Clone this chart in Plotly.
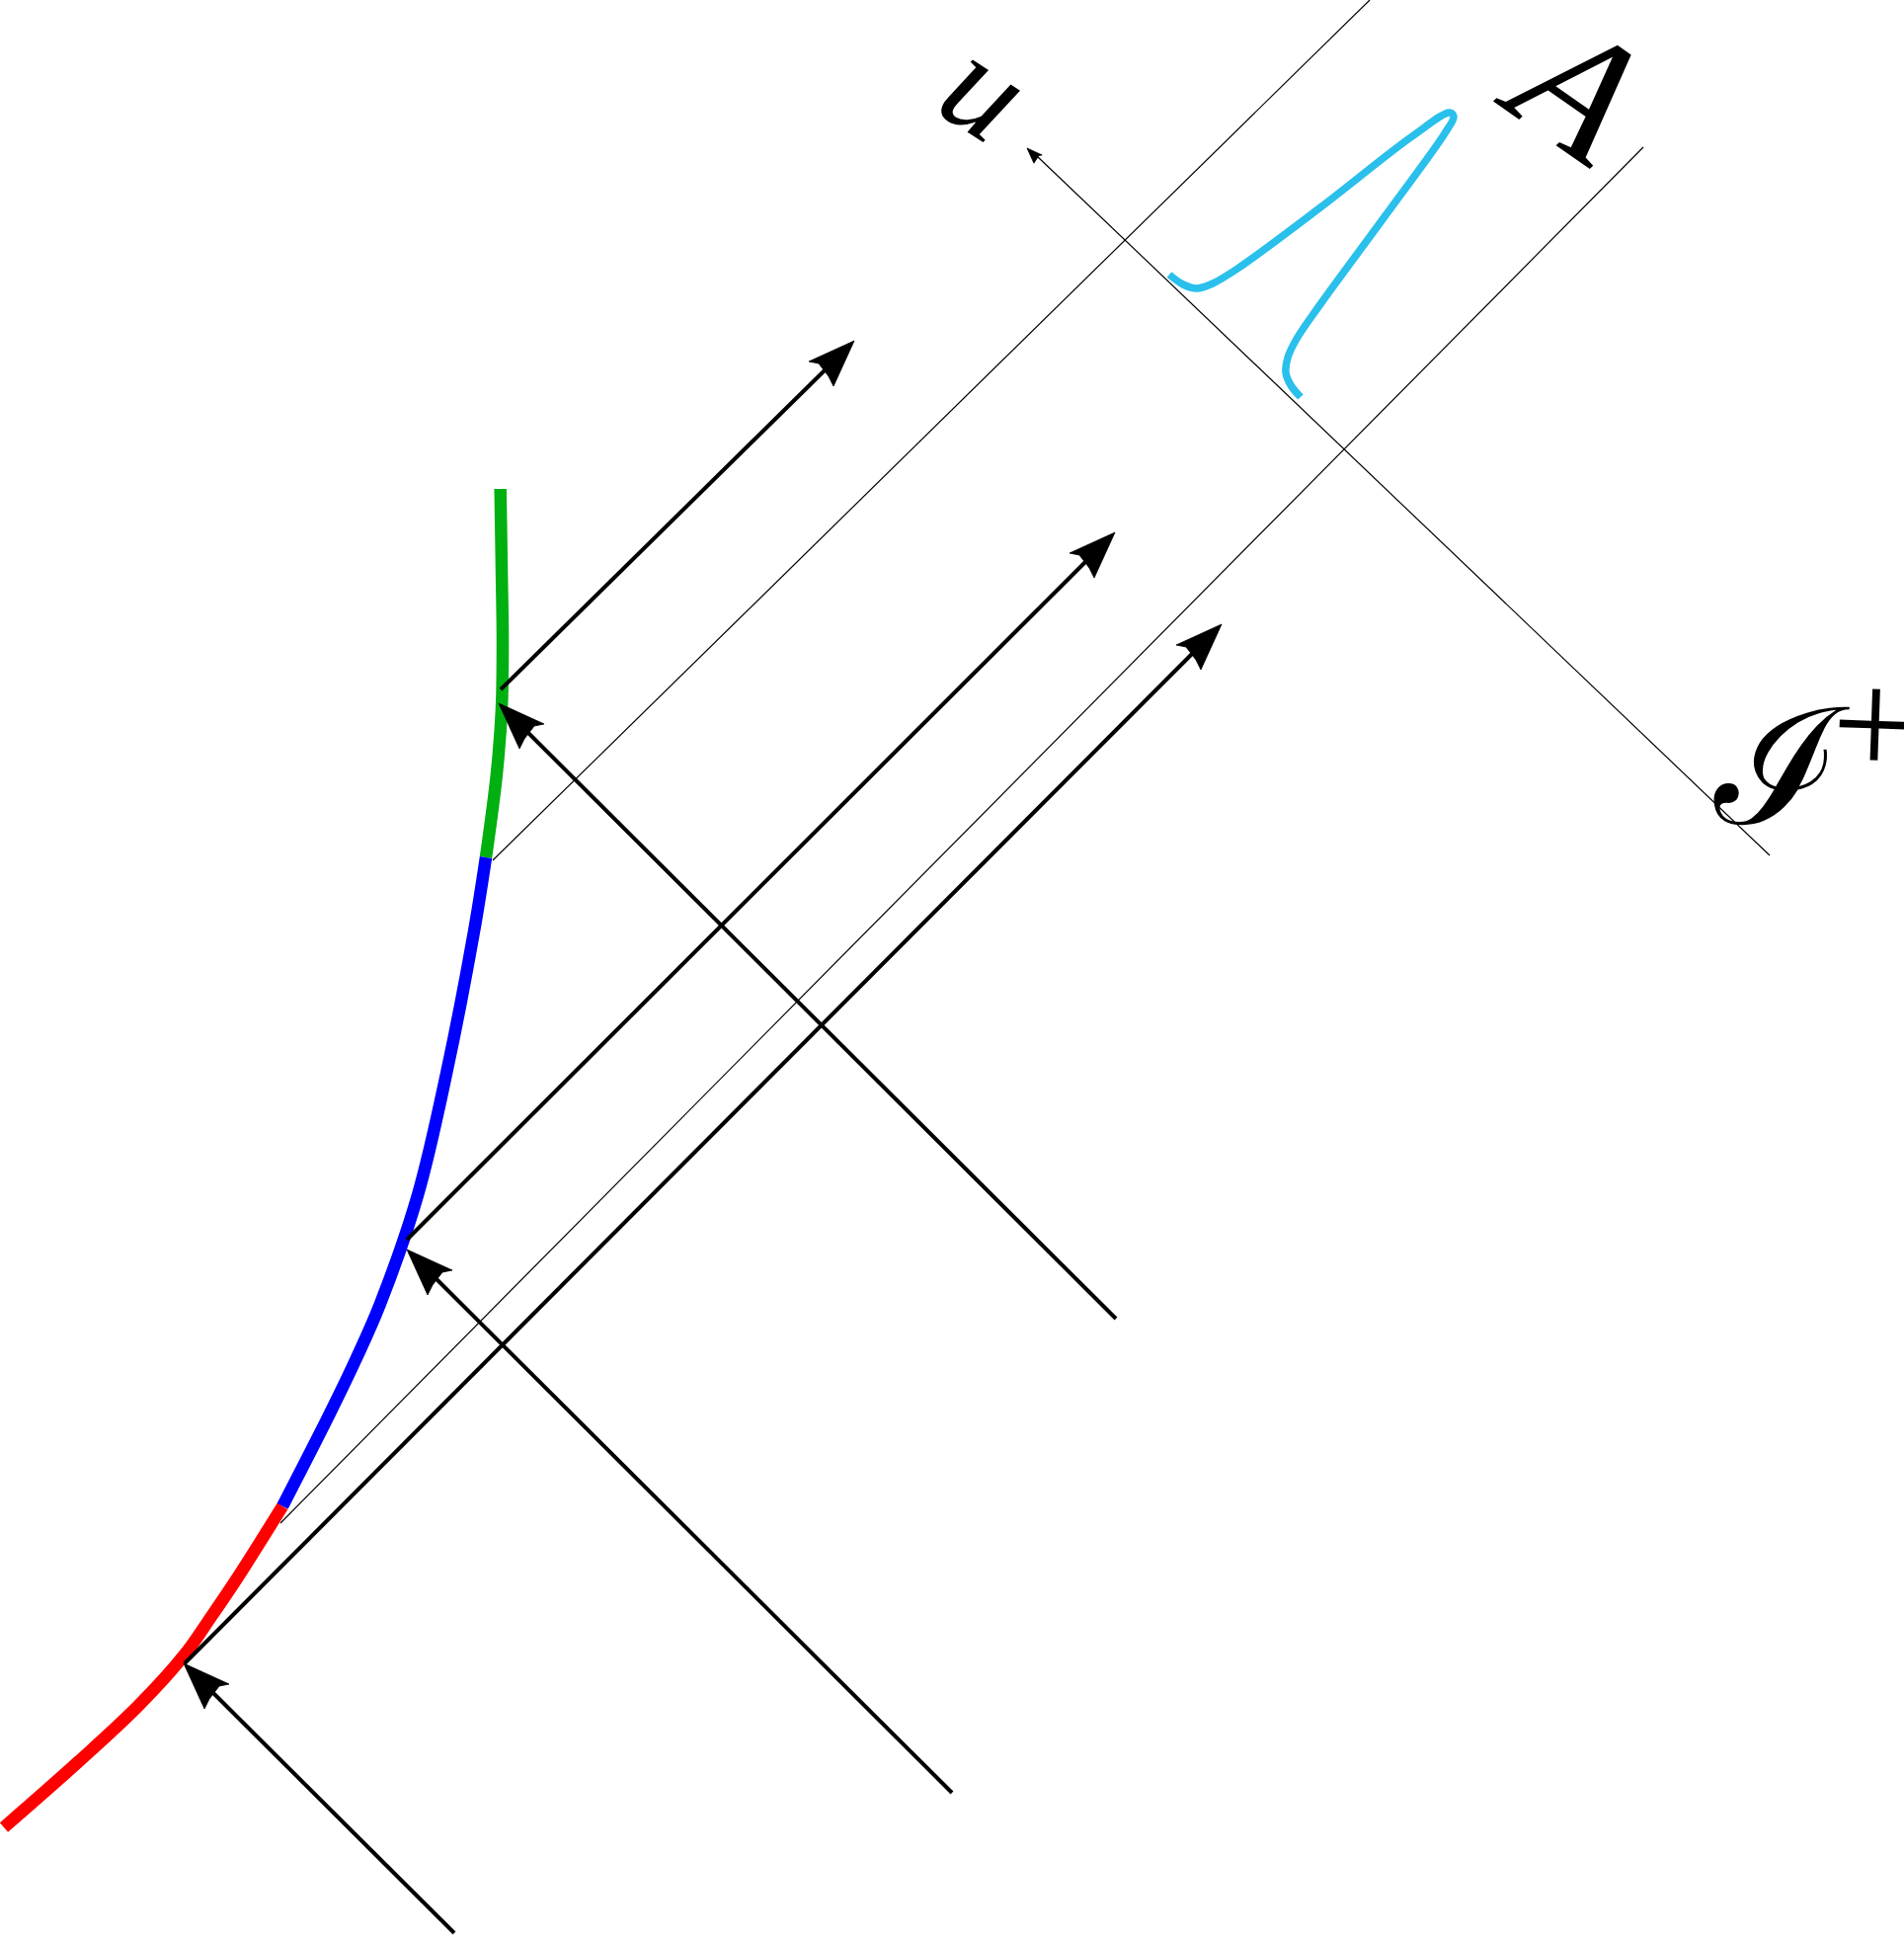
import plotly.graph_objects as go

W, H = 1928, 1959

red_x = [4, 80, 140, 187, 213, 240, 286]
red_y = [1850, 1783, 1727, 1675, 1638, 1598, 1525]
blue_x = [286, 333, 360, 385, 423, 452, 480, 492]
blue_y = [1525, 1433, 1377, 1320, 1210, 1087, 943, 868]
green_x = [492, 503, 508, 509, 508, 506.7]
green_y = [868, 783, 717, 650, 577, 495]
cyan_x = [1184, 1198, 1212, 1228, 1253, 1337, 1430, 1468, 1472, 1463, 1403, 1337, 1313, 1304, 1302, 1307, 1317]
cyan_y = [278, 288, 292, 287, 272, 210, 138, 114, 118, 135, 218, 308, 343, 362, 377, 390, 402]

thin_x = [[499, 1387], [284, 1664]]
thin_y = [[871, 0], [1542, 149]]
out_start_x = [507, 412, 187]
out_start_y = [698, 1255, 1684]
out_tip_x = [865, 1129, 1237]
out_tip_y = [345, 539, 632]
in_start_x = [1130, 964, 460]
in_start_y = [1335, 1815, 1957]
in_tip_x = [505, 412, 186]
in_tip_y = [712, 1265, 1684]
axis_x = [1792, 1050]
axis_y = [866, 158]
axis_tip = (1040, 150)

labels = ["u", "A", "ℐ", "+"]
label_x = [999, 1596, 1803, 1898]
label_y = [89, 87, 776, 733]
label_angle = [33, 35, 3, 2]
label_size = [140, 180, 170, 155]
label_font = ["Liberation Serif", "Liberation Serif", "DejaVu Serif", "Liberation Serif"]

fig = go.Figure()


def line(x, y, color="black", width=4, shape="linear"):
    fig.add_trace(go.Scatter(x=x, y=y, mode="lines",
                             line=dict(color=color, width=width, shape=shape, smoothing=1),
                             hoverinfo="skip", showlegend=False))


def head(tx, ty, sx, sy, scale=1.0):
    # barbs and curved notch measured relative to the tip, for a head pointing up and left/right
    s = 1 if sx > 0 else -1
    xs = [0, 46, 36, 31, 26, 21, 0]
    ys = [0, 21, 23, 30, 36, 46, 0]
    fig.add_trace(go.Scatter(x=[tx + s * a * scale for a in xs],
                             y=[ty + b * scale for b in ys],
                             mode="lines", fill="toself", fillcolor="black",
                             line=dict(color="black", width=0.8),
                             hoverinfo="skip", showlegend=False))


for tx, ty in zip(thin_x, thin_y):
    line(tx, ty, width=1.2)
line(axis_x, axis_y, width=1.2)
head(axis_tip[0], axis_tip[1], 1, 1, 0.33)

line(cyan_x, cyan_y, color="#29C0EC", width=7.5, shape="spline")
line(green_x, green_y, color="#00B010", width=12.5, shape="spline")
line(blue_x, blue_y, color="#0000FF", width=12.5, shape="spline")
line(red_x, red_y, color="#FF0000", width=12.5, shape="spline")

for sx, sy, tx, ty in zip(out_start_x, out_start_y, out_tip_x, out_tip_y):
    line([sx, tx - 30], [sy, ty + 30])
    head(tx, ty, -1, 1)
for sx, sy, tx, ty in zip(in_start_x, in_start_y, in_tip_x, in_tip_y):
    line([sx, tx + 30], [sy, ty + 30])
    head(tx, ty, 1, 1)

for i, (t, x, y, a, s, f) in enumerate(zip(labels, label_x, label_y, label_angle, label_size, label_font)):
    fig.add_annotation(text=f"<i>{t}</i>" if i < 2 else t, x=x, y=y, xref="x", yref="y", showarrow=False,
                       textangle=a, font=dict(family=f, size=s, color="black"),
                       xanchor="center", yanchor="middle")

fig.update_layout(width=W, height=H, margin=dict(l=0, r=0, t=0, b=0),
                  paper_bgcolor="white", plot_bgcolor="white", showlegend=False,
                  xaxis=dict(range=[0, W], visible=False, fixedrange=True),
                  yaxis=dict(range=[H, 0], visible=False, fixedrange=True))
fig.write_html("out.html", config={"displayModeBar": False},
               post_script="document.body.style.margin='0';document.body.style.overflow='hidden';")
